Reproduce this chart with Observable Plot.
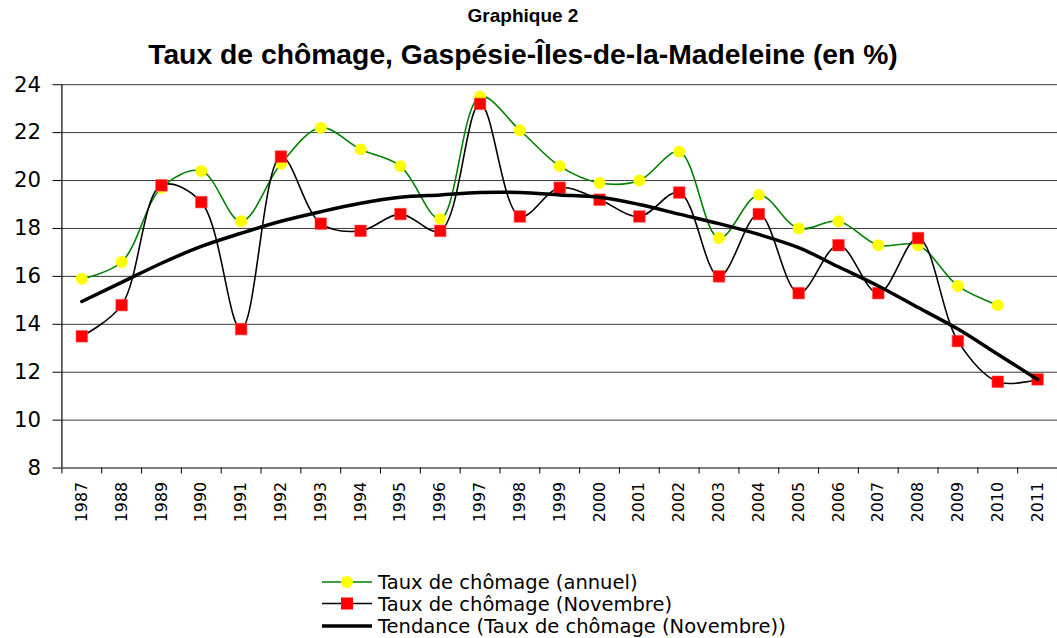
<!DOCTYPE html>
<html>
<head>
<meta charset="utf-8">
<script src="https://cdn.jsdelivr.net/npm/d3@7"></script>
<script src="https://cdn.jsdelivr.net/npm/@observablehq/plot@0.6"></script>
<style>
  html, body { margin: 0; padding: 0; background: #fff; overflow: hidden; }
  #wrap { position: relative; width: 1057px; height: 638px; overflow: hidden; background: #fff; }
  .sup { position: absolute; left: 0; width: 1046px; text-align: center; top: 5px; line-height: 1.15;
         font: bold 19px "Liberation Sans", Arial, sans-serif; color: #000; }
  .title { position: absolute; left: 0; width: 1046px; text-align: center; top: 38px; line-height: 1.15;
         font: bold 28.3px "Liberation Sans", Arial, sans-serif; color: #000; }
  #chart { position: absolute; left: 0; top: 0; }
  #legend { position: absolute; left: 0; top: 570px; }
</style>
</head>
<body>
<div id="wrap">
  <div class="sup">Graphique 2</div>
  <div class="title">Taux de chômage, Gaspésie-Îles-de-la-Madeleine (en %)</div>
  <div id="chart"></div>
  <svg id="legend" width="1057" height="68"></svg>
</div>
<script>
const years = [1987,1988,1989,1990,1991,1992,1993,1994,1995,1996,1997,1998,1999,2000,2001,2002,2003,2004,2005,2006,2007,2008,2009,2010,2011];
const annuel = [15.9,16.6,19.7,20.4,18.3,20.7,22.2,21.3,20.6,18.4,23.5,22.1,20.6,19.9,20.0,21.2,17.6,19.4,18.0,18.3,17.3,17.3,15.6,14.8,null];
const novembre = [13.5,14.8,19.8,19.1,13.8,21.0,18.2,17.9,18.6,17.9,23.2,18.5,19.7,19.2,18.5,19.5,16.0,18.6,15.3,17.3,15.3,17.6,13.3,11.6,11.7];
const tendance = [14.95,15.75,16.55,17.25,17.8,18.3,18.7,19.05,19.3,19.4,19.5,19.5,19.4,19.3,19.0,18.6,18.2,17.75,17.2,16.4,15.6,14.7,13.8,12.75,11.7];
const yTicks = [8,10,12,14,16,18,20,22,24];
const legendLabels = ["Taux de chômage (annuel)", "Taux de chômage (Novembre)", "Tendance (Taux de chômage (Novembre))"];

const annData = years.map((year, i) => ({year, value: annuel[i]})).filter(d => d.value != null);
const novData = years.map((year, i) => ({year, value: novembre[i]}));
const trendData = years.map((year, i) => ({year, value: tendance[i]}));
const boundaries = [years[0] - 0.5, ...years.map(y => y + 0.5)];

const chart = Plot.plot({
  width: 1067,
  height: 545,
  marginTop: 85,
  marginBottom: 73,
  marginLeft: 62,
  marginRight: 0,
  style: {color: "#000", background: "transparent", overflow: "visible"},
  x: {domain: [years[0] - 0.5, years[years.length - 1] + 0.5]},
  y: {domain: [8, 24]},
  marks: [
    Plot.gridY(yTicks.slice(1), {stroke: "#222", strokeOpacity: 0.9, strokeWidth: 1}),
    Plot.ruleX([years[0] - 0.5], {stroke: "#000", strokeWidth: 1.2}),
    Plot.ruleY([8], {stroke: "#555", strokeWidth: 1.5}),
    Plot.axisY(yTicks, {tickSize: 9, tickPadding: 12, fontSize: 21.5, fontFamily: "DejaVu Sans", label: null, tickFormat: d => String(d)}),
    Plot.axisX(years, {tickSize: 0, tickPadding: 14, tickRotate: -90, fontSize: 16, fontFamily: "DejaVu Sans", label: null, tickFormat: d => String(d)}),
    Plot.axisX(boundaries, {tickSize: 6, tickFormat: () => "", label: null}),
    Plot.line(annData, {x: "year", y: "value", stroke: "#008000", strokeWidth: 1.6, curve: "catmull-rom"}),
    Plot.dot(annData, {x: "year", y: "value", r: 6, fill: "#ffff00", stroke: "none"}),
    Plot.line(novData, {x: "year", y: "value", stroke: "#000", strokeWidth: 1.6, curve: "catmull-rom"}),
    Plot.dot(novData, {x: "year", y: "value", symbol: "square", r: 6.6, fill: "#ff0000", stroke: "#ff5050", strokeWidth: 0.6}),
    Plot.line(trendData, {x: "year", y: "value", stroke: "#000", strokeWidth: 3.5, curve: "catmull-rom"})
  ]
});
document.getElementById("chart").appendChild(chart);

// Legend
const lg = d3.select("#legend");
const rowsY = [12, 33.5, 56];
const styles = [
  {stroke: "#008000", width: 1.6, marker: "circle", fill: "#ffff00"},
  {stroke: "#000", width: 1.6, marker: "square", fill: "#ff0000"},
  {stroke: "#000", width: 3.5, marker: null}
];
legendLabels.forEach((label, i) => {
  const y = rowsY[i], s = styles[i];
  lg.append("line").attr("x1", 322).attr("x2", 372).attr("y1", y).attr("y2", y)
    .attr("stroke", s.stroke).attr("stroke-width", s.width);
  if (s.marker === "circle") lg.append("circle").attr("cx", 347).attr("cy", y).attr("r", 6).attr("fill", s.fill);
  if (s.marker === "square") lg.append("rect").attr("x", 341).attr("y", y - 6).attr("width", 12).attr("height", 12).attr("fill", s.fill);
  lg.append("text").attr("x", 378).attr("y", y + 7).attr("font-family", "DejaVu Sans").attr("font-size", 19.5)
    .attr("fill", "#000").text(label);
});
</script>
</body>
</html>
